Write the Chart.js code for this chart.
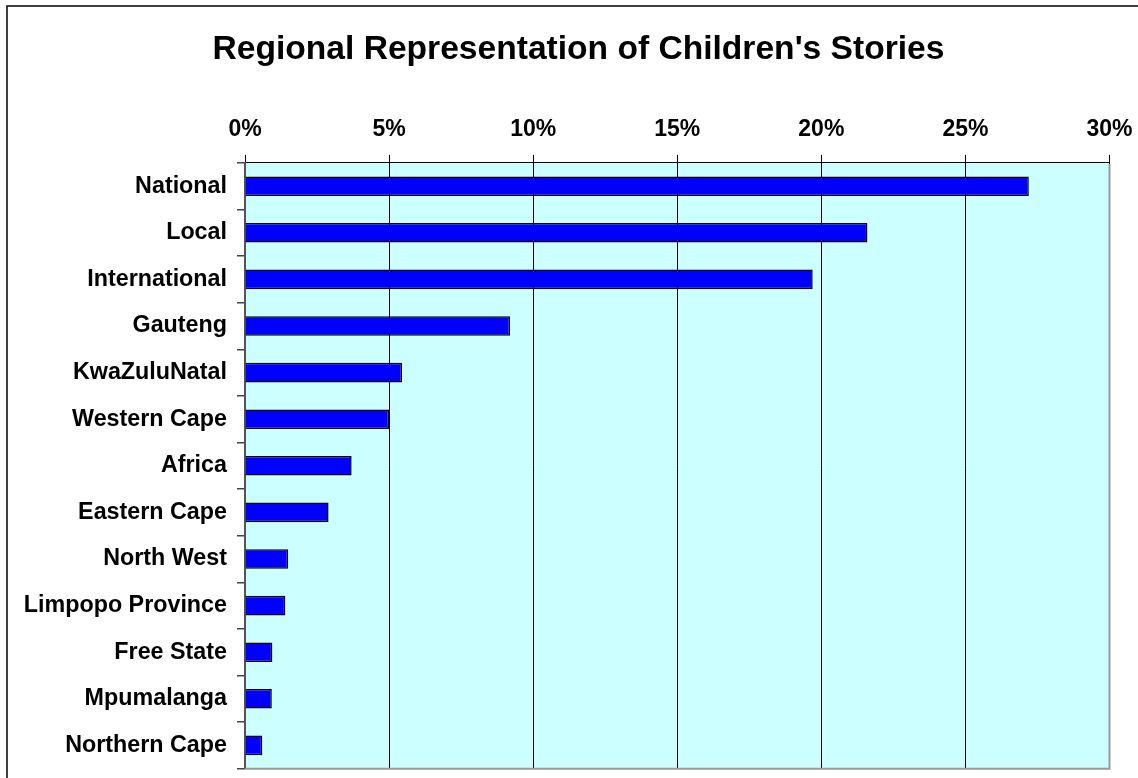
<!DOCTYPE html>
<html>
<head>
<meta charset="utf-8">
<script src="https://cdn.jsdelivr.net/npm/chart.js@4/dist/chart.umd.min.js"></script>
<style>
  html, body { margin: 0; padding: 0; background: #fff; }
  #wrap { width: 1138px; height: 778px; position: relative; }
</style>
</head>
<body>
<div id="wrap"><canvas id="regionChart"></canvas></div>
<script>
// data (share of stories, %)
const regions = [
  "National", "Local", "International", "Gauteng", "KwaZuluNatal",
  "Western Cape", "Africa", "Eastern Cape", "North West",
  "Limpopo Province", "Free State", "Mpumalanga", "Northern Cape"
];
const shares = [27.2, 21.6, 19.7, 9.2, 5.45, 5.0, 3.7, 2.9, 1.5, 1.4, 0.95, 0.93, 0.6];
const xTicks = [0, 5, 10, 15, 20, 25, 30];
const chartTitle = "Regional Representation of Children's Stories";

const FONT = "'Liberation Sans', Arial, sans-serif";

// plot background, outer frame and title (title sits off-centre in the original)
const chartFrame = {
  id: "chartFrame",
  beforeDraw(chart) {
    const { ctx, chartArea: a } = chart;
    ctx.save();
    ctx.fillStyle = "#fff";
    ctx.fillRect(0, 0, chart.width, chart.height);
    ctx.strokeStyle = "#000";
    ctx.lineWidth = 1.5;
    ctx.strokeRect(7, 6, chart.width + 10, chart.height + 10);
    ctx.fillStyle = "#CCFFFF";
    ctx.fillRect(a.left, a.top, a.right - a.left, a.bottom - a.top);
    ctx.fillStyle = "#000";
    ctx.font = "bold 33.6px " + FONT;
    ctx.textAlign = "center";
    ctx.textBaseline = "middle";
    ctx.fillText(chartTitle, 578.5, 50);
    ctx.restore();
  },
  afterDatasetsDraw(chart) {
    const { ctx, chartArea: a } = chart;
    ctx.save();
    ctx.strokeStyle = "#999";
    ctx.lineWidth = 2;
    ctx.beginPath();
    ctx.moveTo(a.right, a.top + 1);
    ctx.lineTo(a.right, a.bottom);
    ctx.lineTo(a.left, a.bottom);
    ctx.stroke();
    ctx.restore();
  }
};

new Chart(document.getElementById("regionChart"), {
  type: "bar",
  data: {
    labels: regions,
    datasets: [{
      data: shares,
      backgroundColor: "#0000FF",
      borderColor: "#000",
      borderWidth: 1.5,
      barPercentage: 0.42,
      categoryPercentage: 1
    }]
  },
  plugins: [chartFrame],
  options: {
    indexAxis: "y",
    responsive: true,
    maintainAspectRatio: false,
    animation: false,
    layout: { padding: { left: 10, top: 105.3, right: 28.5, bottom: 9.3 } },
    plugins: {
      legend: { display: false },
      tooltip: { enabled: false },
      title: { display: false }
    },
    scales: {
      x: {
        position: "top",
        min: 0,
        max: 30,
        afterBuildTicks: (s) => { s.ticks = xTicks.map(v => ({ value: v })); },
        afterFit: (s) => { s.paddingLeft = 0; s.paddingRight = 0; },
        ticks: {
          color: "#000",
          padding: 11,
          maxRotation: 0,
          font: { family: FONT, size: 23, weight: "bold" },
          callback: (v) => v + "%"
        },
        grid: { color: "#000", lineWidth: 1, tickLength: 8 },
        border: { color: "#000", width: 1 }
      },
      y: {
        afterFit: (s) => { s.width = 235; s.paddingTop = 0; s.paddingBottom = 0; },
        ticks: {
          color: "#000",
          padding: 10,
          font: { family: FONT, size: 23.3, weight: "bold" }
        },
        grid: { offset: true, drawOnChartArea: false, color: "#444", tickLength: 8, lineWidth: 1.5 },
        border: { color: "#555", width: 2 }
      }
    }
  }
});
</script>
</body>
</html>
